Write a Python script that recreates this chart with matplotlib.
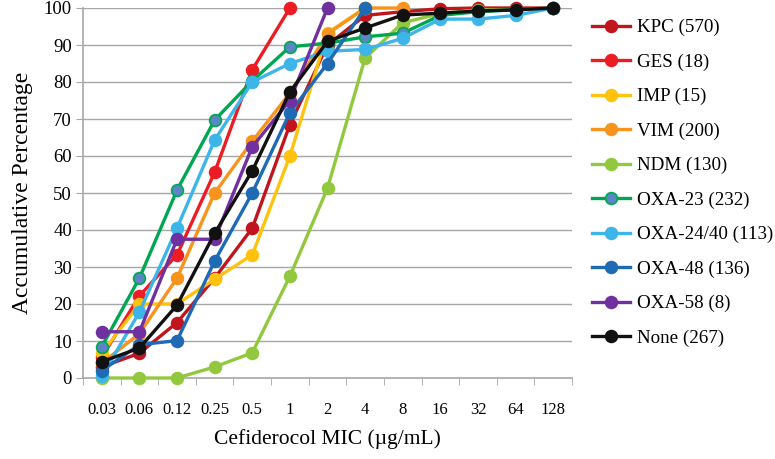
import matplotlib
matplotlib.use("Agg")
import matplotlib.pyplot as plt
import numpy as np

categories = ["0.03", "0.06", "0.12", "0.25", "0.5", "1", "2", "4", "8", "16", "32", "64", "128"]

names = ["KPC (570)", "GES (18)", "IMP (15)", "VIM (200)", "NDM (130)", "OXA-23 (232)",
         "OXA-24/40 (113)", "OXA-48 (136)", "OXA-58 (8)", "None (267)"]

kpc = [3.0, 6.7, 15.0, 27.0, 40.5, 68.5, 90.0, 98.0, 99.0, 99.8, 100.0, 100.0, 100.0]
ges = [5.6, 22.2, 33.3, 55.6, 83.3, 100.0]
imp = [6.7, 20.0, 20.0, 26.7, 33.3, 60.0, 93.3, 100.0]
vim = [4.0, 12.0, 27.0, 50.0, 64.0, 77.0, 93.0, 100.0, 100.0]
ndm = [0.0, 0.0, 0.0, 3.0, 6.8, 27.5, 51.3, 86.5, 96.0, 98.5, 99.5, 99.5, 100.0]
oxa23 = [8.5, 27.0, 50.8, 69.7, 80.3, 89.5, 90.5, 92.2, 93.2, 98.0, 99.0, 99.5, 100.0]
oxa2440 = [0.5, 17.8, 40.5, 64.3, 80.0, 85.0, 88.3, 88.8, 91.8, 97.0, 97.0, 98.0, 100.0]
oxa48 = [2.0, 9.0, 10.1, 31.6, 50.0, 71.7, 85.0, 100.0]
oxa58 = [12.5, 12.5, 37.5, 37.5, 62.5, 75.0, 100.0]
none = [4.4, 8.1, 19.7, 39.1, 56.0, 77.3, 91.0, 94.6, 98.1, 98.6, 99.2, 99.5, 100.0]

series = [kpc, ges, imp, vim, ndm, oxa23, oxa2440, oxa48, oxa58, none]
line_colors = ["#C0151D", "#EC1C24", "#FFC20E", "#F7941D", "#92C83E", "#00A651",
               "#3DB5E8", "#1E6AB4", "#7030A0", "#111111"]
face_colors = ["#C0151D", "#EC1C24", "#FFC20E", "#F7941D", "#92C83E", "#5A86C5",
               "#3DB5E8", "#1E6AB4", "#7030A0", "#111111"]

plt.rcParams['font.family'] = ['Liberation Serif', 'DejaVu Serif']

fig = plt.figure(figsize=(7.75, 4.59), dpi=100)
ax = fig.add_axes([83/775, 1-378/459, (572-83)/775, (378-8)/459])

grid_c = "#A6A6A6"
for y in range(10, 101, 10):
    ax.axhline(y, color=grid_c, lw=1.0, zorder=0)

handles = []
for vals, lc, fc, nm in zip(series, line_colors, face_colors, names):
    xs = np.arange(len(vals))
    h, = ax.plot(xs, vals, '-o', color=lc, lw=2.4, markersize=8.5,
                 markerfacecolor=fc, markeredgecolor=lc, markeredgewidth=1.2,
                 label=nm, clip_on=False, zorder=3)
    handles.append(h)

ax.set_xlim(-0.5, len(categories) - 0.5)
ax.set_ylim(0, 100)
ax.set_yticks(range(0, 101, 10))
ax.set_xticks(np.arange(len(categories)))
ax.set_xticklabels(categories)
ax.set_xticks(np.arange(-0.5, len(categories)), minor=True)
ax.tick_params(axis='x', which='major', length=0, pad=17, labelsize=12)
ax.tick_params(axis='x', which='minor', length=5, color=grid_c, direction='out')
ax.tick_params(axis='y', length=5, color=grid_c, direction='out', labelsize=13.5, pad=3)

for s in ['top', 'right']:
    ax.spines[s].set_visible(False)
for s in ['left', 'bottom']:
    ax.spines[s].set_color(grid_c)
    ax.spines[s].set_linewidth(1.2)

ax.set_ylabel("Accumulative Percentage", fontsize=17, labelpad=8)
ax.set_xlabel("Cefiderocol MIC (\u00b5g/mL)", fontsize=15.5, labelpad=8)

fig.legend(handles=handles, loc='upper left', bbox_to_anchor=(592/775, 1-19/459),
           frameon=False, fontsize=13.7, handlelength=2.0, handletextpad=0.35,
           labelspacing=0.9, borderaxespad=0, borderpad=0)

fig.savefig("out.png", dpi=100)
